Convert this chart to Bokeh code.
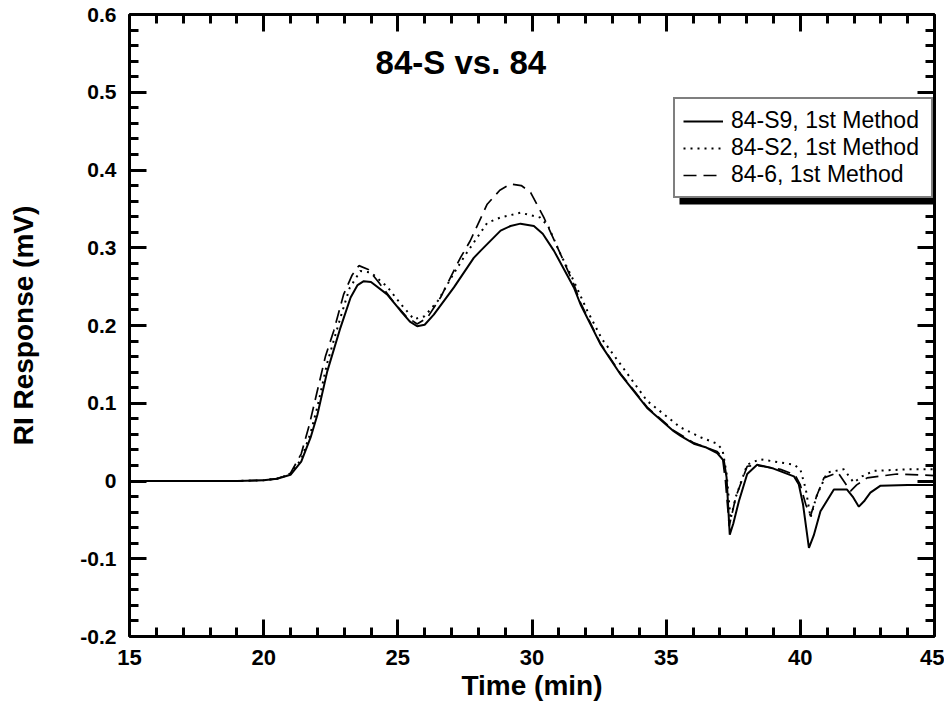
from bokeh.plotting import figure
from bokeh.models import (Range1d, LinearAxis, SingleIntervalTicker, CustomJSTickFormatter,
                          Legend, LegendItem, Label, BoxAnnotation)
from bokeh.embed import file_html
from bokeh.resources import INLINE

# ---------------- data ----------------
s9_t = [15, 19, 20, 20.5, 21, 21.4, 21.75, 22.0, 22.37, 22.86, 23.24, 23.5, 23.73, 24.0, 24.6,
        25.1, 25.45, 25.72, 26.0, 26.34, 27.09, 27.83, 28.08, 28.83, 29.2, 29.57, 30.07, 30.4,
        30.82, 31.56, 31.81, 32.55, 33.3, 34.29, 35.28, 35.54, 36.03, 36.5, 36.9, 37.15, 37.25,
        37.37, 37.5, 37.71, 38.02, 38.39, 39.0, 39.76, 39.94, 40.1, 40.32, 40.5, 40.75, 41.25,
        41.74, 41.95, 42.18, 42.4, 42.61, 42.99, 44, 45]
s9_v = [0, 0, 0.001, 0.003, 0.008, 0.025, 0.056, 0.085, 0.141, 0.197, 0.236, 0.252, 0.257, 0.256,
        0.24, 0.219, 0.205, 0.199, 0.201, 0.214, 0.249, 0.287, 0.296, 0.322, 0.328, 0.331, 0.328,
        0.318, 0.296, 0.249, 0.227, 0.176, 0.137, 0.094, 0.064, 0.058, 0.048, 0.043, 0.036, 0.026,
        0.005, -0.069, -0.055, -0.026, 0.009, 0.021, 0.016, 0.006, -0.004, -0.03, -0.086, -0.07,
        -0.039, -0.011, -0.011, -0.02, -0.033, -0.025, -0.015, -0.006, -0.005, -0.005]

s2_t = [15, 19, 20, 20.5, 21, 21.4, 21.75, 22.0, 22.37, 22.86, 23.2, 23.6, 24.0, 24.6, 25.1, 25.6,
        26.0, 26.5, 27.0, 27.5, 28.33, 28.83, 29.57, 30.3, 30.6, 31.06, 31.56, 32.06, 32.6, 33.3,
        34.29, 35.53, 36.3, 36.9, 37.1, 37.25, 37.4, 37.6, 38.02, 38.5, 39.76, 40.0, 40.2, 40.38,
        40.6, 41.0, 41.62, 41.99, 42.3, 42.74, 44, 45]
s2_v = [0, 0, 0.001, 0.003, 0.009, 0.028, 0.062, 0.095, 0.152, 0.21, 0.248, 0.27, 0.268, 0.25,
        0.228, 0.208, 0.212, 0.232, 0.262, 0.29, 0.332, 0.339, 0.345, 0.339, 0.328, 0.292, 0.257,
        0.219, 0.183, 0.15, 0.103, 0.069, 0.056, 0.048, 0.04, 0.01, -0.049, -0.02, 0.021, 0.028,
        0.021, 0.015, -0.01, -0.047, -0.02, 0.011, 0.015, -0.002, 0.006, 0.013, 0.015, 0.015]

s6_t = [15, 19, 20, 20.5, 21, 21.4, 21.7, 22.0, 22.3, 22.61, 22.98, 23.3, 23.55, 23.9, 24.3, 24.8,
        25.3, 25.72, 26.1, 26.59, 27.33, 27.7, 28.33, 28.8, 29.2, 29.6, 29.95, 30.44, 31.06, 31.56,
        31.81, 32.55, 33.3, 34.29, 35.28, 36.03, 36.9, 37.1, 37.21, 37.35, 37.6, 38.02, 38.4,
        39.26, 39.8, 40.0, 40.2, 40.38, 40.6, 40.88, 41.4, 41.87, 42.1, 42.49, 43.6, 45]
s6_v = [0, 0, 0.001, 0.003, 0.01, 0.035, 0.072, 0.116, 0.16, 0.193, 0.24, 0.265, 0.277, 0.272,
        0.255, 0.232, 0.212, 0.202, 0.21, 0.236, 0.287, 0.309, 0.356, 0.374, 0.382, 0.38, 0.371,
        0.339, 0.292, 0.253, 0.229, 0.177, 0.138, 0.095, 0.065, 0.049, 0.038, 0.03, 0.0, -0.058,
        -0.02, 0.019, 0.02, 0.015, 0.008, -0.005, -0.03, -0.045, -0.02, 0.004, 0.011, -0.013,
        -0.005, 0.004, 0.009, 0.007]

series_names = ["84-S9, 1st Method", "84-S2, 1st Method", "84-6, 1st Method"]
title_text = "84-S vs. 84"
x_label = "Time (min)"
y_label = "RI Response (mV)"

FONT = "Liberation Sans"

p = figure(output_backend="svg", toolbar_location=None,
           frame_width=805, frame_height=622,
           x_range=Range1d(15, 45), y_range=Range1d(-0.2, 0.6000001),
           min_border_left=129, min_border_right=10, min_border_top=14, min_border_bottom=40)
p.xgrid.visible = False
p.ygrid.visible = False
p.outline_line_color = None
p.background_fill_color = "white"
p.border_fill_color = "white"

xt = SingleIntervalTicker(interval=5, num_minor_ticks=5)
yt = SingleIntervalTicker(interval=0.1, num_minor_ticks=5)
yfmt = CustomJSTickFormatter(code="return Math.abs(tick) < 1e-9 ? '0' : tick.toFixed(1);")
blank = CustomJSTickFormatter(code="return '';")

def style_axis(ax, size="21px"):
    ax.axis_line_width = 3
    ax.axis_line_color = "black"
    ax.major_tick_line_width = 3
    ax.minor_tick_line_width = 3
    ax.major_tick_in = 17
    ax.major_tick_out = 0
    ax.minor_tick_in = 9
    ax.minor_tick_out = 0
    ax.major_label_text_font = FONT
    ax.major_label_text_font_style = "bold"
    ax.major_label_text_font_size = size
    ax.major_label_text_color = "black"
    ax.axis_label_text_font = FONT
    ax.axis_label_text_font_style = "bold"
    ax.axis_label_text_font_size = "28px"
    ax.axis_label_text_color = "black"

p.xaxis.ticker = xt
p.yaxis.ticker = yt
p.yaxis.formatter = yfmt
style_axis(p.xaxis[0], size="22px")
style_axis(p.yaxis[0], size="21px")
p.xaxis.major_label_standoff = 13
p.yaxis.major_label_standoff = 13
p.xaxis.axis_label = x_label
p.yaxis.axis_label = y_label
p.xaxis.axis_label_standoff = 2
p.yaxis.axis_label_standoff = 38

top = LinearAxis(ticker=xt, formatter=blank, major_label_standoff=0)
style_axis(top)
p.add_layout(top, "above")
right = LinearAxis(ticker=yt, formatter=blank, major_label_standoff=0)
style_axis(right)
p.add_layout(right, "right")

r9 = p.line(s9_t, s9_v, line_color="black", line_width=2)
r2 = p.line(s2_t, s2_v, line_color="black", line_width=2, line_dash="2 5")
r6 = p.line(s6_t, s6_v, line_color="black", line_width=1.7, line_dash="13 7")

p.add_layout(Label(x=27.35, y=0.538, text=title_text, text_font=FONT, text_font_style="bold",
                   text_font_size="33px", text_color="black",
                   text_align="center", text_baseline="middle"))

# legend geometry (screen px, frame-relative, y up; location = bottom-left corner)
pad, gw, gstand, lw, rowh = 8, 40, 8, 192, 26
leg_x, leg_y = 544, 438
leg_w = 2 * pad + gw + gstand + lw
leg_h = 2 * pad + 3 * rowh
shadow = 6
p.add_layout(BoxAnnotation(left=leg_x + shadow, right=leg_x + leg_w + shadow,
                           bottom=leg_y - shadow, top=leg_y + leg_h - shadow,
                           left_units="screen", right_units="screen", top_units="screen", bottom_units="screen",
                           fill_color="black", fill_alpha=1, line_color=None, level="annotation"))
legend = Legend(items=[LegendItem(label=n, renderers=[r]) for n, r in zip(series_names, [r9, r2, r6])],
                location=(leg_x, leg_y), orientation="vertical",
                label_text_font=FONT, label_text_font_size="23px", label_text_color="black",
                glyph_width=gw, glyph_height=rowh, label_height=rowh, label_width=lw,
                label_standoff=gstand, padding=pad, spacing=0, margin=0,
                border_line_color="black", border_line_width=2,
                background_fill_color="white", background_fill_alpha=1)
p.add_layout(legend)

open("out.html", "w").write(file_html(p, INLINE))
